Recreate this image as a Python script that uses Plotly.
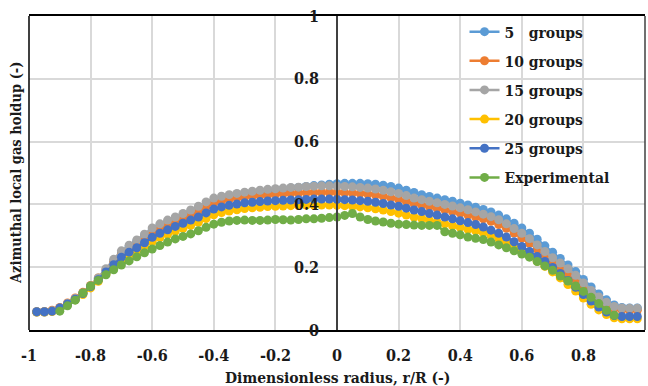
import plotly.graph_objects as go

x_model = [-0.975, -0.95, -0.925, -0.9, -0.875, -0.85, -0.825, -0.8, -0.775, -0.75,
           -0.725, -0.7, -0.675, -0.65, -0.625, -0.6, -0.575, -0.55, -0.525, -0.5,
           -0.475, -0.45, -0.425, -0.4, -0.375, -0.35, -0.325, -0.3, -0.275, -0.25,
           -0.225, -0.2, -0.175, -0.15, -0.125, -0.1, -0.075, -0.05, -0.025, 0.0,
           0.025, 0.05, 0.075, 0.1, 0.125, 0.15, 0.175, 0.2, 0.225, 0.25,
           0.275, 0.3, 0.325, 0.35, 0.375, 0.4, 0.425, 0.45, 0.475, 0.5,
           0.525, 0.55, 0.575, 0.6, 0.625, 0.65, 0.675, 0.7, 0.725, 0.75,
           0.775, 0.8, 0.825, 0.85, 0.875, 0.9, 0.925, 0.95, 0.975]

x_exp = [-0.9, -0.875, -0.85, -0.825, -0.8, -0.775, -0.75,
         -0.725, -0.7, -0.675, -0.65, -0.625, -0.6, -0.575, -0.55, -0.525, -0.5,
         -0.475, -0.45, -0.425, -0.4, -0.375, -0.35, -0.325, -0.3, -0.275, -0.25,
         -0.225, -0.2, -0.175, -0.15, -0.125, -0.1, -0.075, -0.05, -0.025, 0.0,
         0.025, 0.05, 0.075, 0.1, 0.125, 0.15, 0.175, 0.2, 0.225, 0.25,
         0.275, 0.3, 0.325, 0.35, 0.375, 0.4, 0.425, 0.45, 0.475, 0.5,
         0.525, 0.55, 0.575, 0.6, 0.625, 0.65, 0.675, 0.7, 0.725, 0.75,
         0.775, 0.8, 0.825, 0.85, 0.875, 0.9]

g5 = [0.057, 0.057, 0.060, 0.068, 0.082, 0.098, 0.116, 0.138, 0.163, 0.190,
      0.218, 0.245, 0.265, 0.283, 0.300, 0.318, 0.332, 0.344, 0.355, 0.366,
      0.377, 0.388, 0.400, 0.410, 0.417, 0.423, 0.428, 0.432, 0.436, 0.440,
      0.443, 0.446, 0.449, 0.452, 0.454, 0.457, 0.460, 0.462, 0.464, 0.466,
      0.467, 0.467, 0.467, 0.466, 0.464, 0.461, 0.457, 0.452, 0.445, 0.438,
      0.431, 0.425, 0.420, 0.415, 0.410, 0.404, 0.398, 0.391, 0.384, 0.376,
      0.366, 0.354, 0.340, 0.325, 0.308, 0.289, 0.268, 0.248, 0.228, 0.207,
      0.186, 0.161, 0.137, 0.115, 0.096, 0.080, 0.072, 0.070, 0.070]

g10 = [0.058, 0.059, 0.063, 0.072, 0.086, 0.102, 0.120, 0.142, 0.166, 0.192,
       0.215, 0.240, 0.258, 0.275, 0.292, 0.310, 0.323, 0.335, 0.345, 0.355,
       0.366, 0.378, 0.392, 0.405, 0.411, 0.416, 0.420, 0.423, 0.426, 0.428,
       0.430, 0.432, 0.434, 0.435, 0.436, 0.437, 0.438, 0.438, 0.438, 0.438,
       0.437, 0.436, 0.435, 0.433, 0.430, 0.426, 0.421, 0.416, 0.410, 0.403,
       0.398, 0.393, 0.388, 0.383, 0.377, 0.372, 0.366, 0.360, 0.354, 0.346,
       0.336, 0.324, 0.309, 0.293, 0.276, 0.258, 0.238, 0.218, 0.198, 0.180,
       0.160, 0.138, 0.116, 0.097, 0.080, 0.068, 0.064, 0.063, 0.063]

g15 = [0.058, 0.058, 0.061, 0.070, 0.084, 0.100, 0.118, 0.140, 0.166, 0.195,
       0.225, 0.252, 0.270, 0.287, 0.305, 0.325, 0.338, 0.350, 0.360, 0.371,
       0.382, 0.394, 0.408, 0.420, 0.426, 0.431, 0.435, 0.439, 0.442, 0.445,
       0.448, 0.450, 0.452, 0.454, 0.455, 0.457, 0.458, 0.459, 0.459, 0.458,
       0.457, 0.456, 0.454, 0.452, 0.449, 0.445, 0.440, 0.435, 0.428, 0.420,
       0.415, 0.410, 0.405, 0.400, 0.395, 0.389, 0.383, 0.376, 0.369, 0.361,
       0.351, 0.338, 0.323, 0.308, 0.291, 0.271, 0.250, 0.230, 0.213, 0.195,
       0.174, 0.150, 0.126, 0.105, 0.088, 0.075, 0.070, 0.069, 0.069]

g20 = [0.057, 0.057, 0.059, 0.068, 0.081, 0.096, 0.113, 0.134, 0.155, 0.178,
       0.200, 0.222, 0.238, 0.252, 0.267, 0.282, 0.294, 0.305, 0.315, 0.324,
       0.333, 0.343, 0.355, 0.367, 0.374, 0.379, 0.383, 0.387, 0.389, 0.391,
       0.393, 0.394, 0.395, 0.396, 0.397, 0.398, 0.398, 0.398, 0.398, 0.397,
       0.396, 0.394, 0.392, 0.389, 0.386, 0.382, 0.377, 0.372, 0.366, 0.360,
       0.355, 0.349, 0.344, 0.338, 0.332, 0.327, 0.321, 0.316, 0.310, 0.301,
       0.291, 0.279, 0.265, 0.250, 0.235, 0.219, 0.203, 0.185, 0.166, 0.145,
       0.124, 0.102, 0.082, 0.064, 0.049, 0.039, 0.036, 0.036, 0.036]

g25 = [0.058, 0.058, 0.060, 0.070, 0.083, 0.098, 0.116, 0.138, 0.160, 0.185,
       0.208, 0.232, 0.248, 0.262, 0.278, 0.295, 0.308, 0.319, 0.330, 0.340,
       0.350, 0.360, 0.373, 0.385, 0.392, 0.397, 0.401, 0.405, 0.407, 0.409,
       0.411, 0.412, 0.413, 0.414, 0.415, 0.416, 0.417, 0.417, 0.417, 0.416,
       0.415, 0.414, 0.412, 0.410, 0.407, 0.403, 0.398, 0.394, 0.388, 0.382,
       0.377, 0.371, 0.366, 0.360, 0.354, 0.348, 0.342, 0.336, 0.328, 0.318,
       0.308, 0.296, 0.281, 0.266, 0.250, 0.234, 0.218, 0.199, 0.180, 0.158,
       0.136, 0.113, 0.092, 0.073, 0.057, 0.046, 0.043, 0.043, 0.043]

experimental = [0.060, 0.077, 0.095, 0.118, 0.140, 0.158, 0.176,
                0.192, 0.207, 0.220, 0.233, 0.246, 0.258, 0.269, 0.280, 0.290, 0.298,
                0.306, 0.316, 0.327, 0.337, 0.343, 0.347, 0.349, 0.350, 0.349, 0.349,
                0.350, 0.352, 0.351, 0.350, 0.352, 0.354, 0.354, 0.356, 0.358, 0.360,
                0.365, 0.371, 0.360, 0.352, 0.347, 0.344, 0.340, 0.337, 0.336, 0.334,
                0.333, 0.333, 0.333, 0.313, 0.308, 0.303, 0.296, 0.292, 0.288, 0.280,
                0.271, 0.262, 0.252, 0.242, 0.232, 0.218, 0.204, 0.190, 0.172, 0.156,
                0.140, 0.123, 0.104, 0.084, 0.063, 0.047]

series_names = ["5\u2007\u00a0groups", "10 groups", "15 groups", "20 groups", "25 groups", "Experimental"]
series_colors = ["#5B9BD5", "#ED7D31", "#A5A5A5", "#FFC000", "#4472C4", "#70AD47"]

tick_vals = [-1, -0.8, -0.6, -0.4, -0.2, 0, 0.2, 0.4, 0.6, 0.8, 1]
tick_text_x = ["-1", "-0.8", "-0.6", "-0.4", "-0.2", "0", "0.2", "0.4", "0.6", "0.8", "1"]
tick_vals_y = [0, 0.2, 0.4, 0.6, 0.8, 1]
tick_text_y = ["0", "0.2", "0.4", "0.6", "0.8", "1"]

FONT = "DejaVu Serif Condensed, Liberation Serif, serif"

fig = go.Figure()
data = [(x_model, g5), (x_model, g10), (x_model, g15), (x_model, g20), (x_model, g25), (x_exp, experimental)]
for (xs, ys), name, col in zip(data, series_names, series_colors):
    fig.add_trace(go.Scatter(
        x=xs, y=ys, name=name, mode="lines+markers", legendgroup=name,
        line=dict(color=col, width=2.5),
        marker=dict(color=col, size=9, symbol="circle"),
    ))

fig.update_layout(
    width=648, height=386,
    margin=dict(l=29, r=3, t=16, b=56),
    paper_bgcolor="white", plot_bgcolor="white",
    font=dict(family=FONT, size=15, color="#1a1a1a"),
    showlegend=True,
    legend=dict(x=0.707, y=1.003, xanchor="left", yanchor="top",
                bgcolor="rgba(0,0,0,0)", borderwidth=0,
                font=dict(family=FONT, size=15.5, color="#1a1a1a", weight="bold"),
                traceorder="grouped", tracegroupgap=6),
    xaxis=dict(range=[-1, 1], tickvals=tick_vals, ticktext=tick_text_x,
               showgrid=True, gridcolor="#d9d9d9", gridwidth=1.5,
               zeroline=False, showline=True, linecolor="black", linewidth=1.5,
               mirror=True, ticks="", ticklabelstandoff=10,
               tickfont=dict(family=FONT, size=16, color="#1a1a1a", weight="bold")),
    yaxis=dict(range=[0, 1], tickvals=tick_vals_y, ticktext=tick_text_y,
               anchor="free", position=0.5,
               showgrid=True, gridcolor="#d9d9d9", gridwidth=1.5,
               zeroline=False, showline=True, linecolor="#404040", linewidth=1.5,
               ticks="", ticklabelstandoff=14,
               tickfont=dict(family=FONT, size=16, color="#1a1a1a", weight="bold")),
)

# plot-area left and right borders
fig.add_shape(type="line", xref="paper", yref="paper", x0=0, x1=0, y0=0, y1=1,
              line=dict(color="black", width=1.5))
fig.add_shape(type="line", xref="paper", yref="paper", x0=1, x1=1, y0=0, y1=1,
              line=dict(color="#404040", width=1.5))

fig.add_annotation(text="Dimensionless radius, r/R (-)", xref="paper", yref="paper",
                   x=0.5, y=-0.15, xanchor="center", yanchor="middle", showarrow=False,
                   font=dict(family=FONT, size=15.5, color="#1a1a1a", weight="bold"))
fig.add_annotation(text="Azimuthal local gas holdup (-)", xref="paper", yref="paper",
                   x=-0.0227, y=0.5, xanchor="center", yanchor="middle", showarrow=False,
                   textangle=-90,
                   font=dict(family=FONT, size=14.5, color="#1a1a1a", weight="bold"))

fig.write_html("out.html")
